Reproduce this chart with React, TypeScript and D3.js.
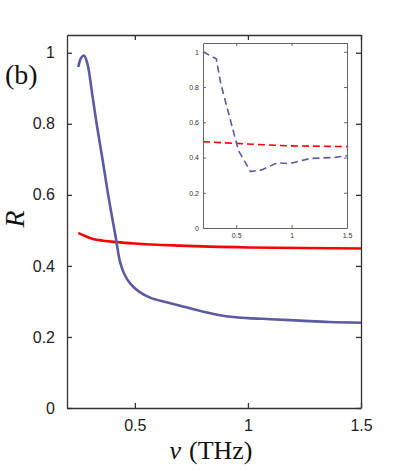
import React, { useEffect, useRef } from 'react';
import * as d3 from 'd3';

// main plot: reflectance vs frequency
const blueNu = [0.25, 0.262, 0.275, 0.29, 0.31, 0.331, 0.357, 0.382, 0.4, 0.417, 0.435, 0.455, 0.48, 0.52, 0.57, 0.64, 0.7, 0.79, 0.87, 0.935, 1.0, 1.1, 1.23, 1.36, 1.5];
const blueR = [0.96, 0.985, 0.992, 0.97, 0.89, 0.8, 0.7, 0.6, 0.535, 0.475, 0.41, 0.375, 0.35, 0.327, 0.31, 0.298, 0.288, 0.273, 0.262, 0.256, 0.253, 0.25, 0.246, 0.242, 0.24];
const redNu = [0.25, 0.28, 0.315, 0.36, 0.42, 0.5, 0.7, 1.0, 1.5];
const redR = [0.493, 0.484, 0.476, 0.471, 0.467, 0.463, 0.457, 0.452, 0.449];

// inset: dashed curves
const insetBlueNu = [0.2, 0.32, 0.36, 0.52, 0.63, 0.73, 0.87, 0.98, 1.17, 1.38, 1.5];
const insetBlueR = [1.0, 0.96, 0.82, 0.44, 0.32, 0.33, 0.37, 0.365, 0.395, 0.4, 0.41];
const insetRedNu = [0.2, 0.47, 0.9, 1.0, 1.5];
const insetRedR = [0.49, 0.481, 0.468, 0.466, 0.462];

const xTicks = [0.5, 1, 1.5];
const yTicks = [0, 0.2, 0.4, 0.6, 0.8, 1];

const App = () => {
  const ref = useRef(null);

  useEffect(() => {
    const svg = d3.select(ref.current);
    svg.selectAll('*').remove();

    const blue = '#5b5ba5';
    const red = '#ff0000';
    const axisColor = '#333';
    const fmt = (d) => String(d);

    // ---------- main axes ----------
    const m = { left: 67, right: 361, top: 35, bottom: 408 };
    const x = d3.scaleLinear().domain([0.2, 1.5]).range([m.left, m.right]);
    const y = d3.scaleLinear().domain([0, 1.05]).range([m.bottom, m.top]);

    const main = svg.append('g');

    main
      .append('path')
      .datum(redNu.map((n, i) => [n, redR[i]]))
      .attr('d', d3.line().x((d) => x(d[0])).y((d) => y(d[1])).curve(d3.curveMonotoneX))
      .attr('fill', 'none')
      .attr('stroke', red)
      .attr('stroke-width', 2.6);

    main
      .append('path')
      .datum(blueNu.map((n, i) => [n, blueR[i]]))
      .attr('d', d3.line().x((d) => x(d[0])).y((d) => y(d[1])).curve(d3.curveCatmullRom.alpha(0.5)))
      .attr('fill', 'none')
      .attr('stroke', blue)
      .attr('stroke-width', 2.6);

    const tickStyle = (g) => {
      g.select('.domain').attr('stroke', axisColor).attr('stroke-width', 1.3);
      g.selectAll('.tick line').attr('stroke', axisColor).attr('stroke-width', 1.3);
      g.selectAll('.tick text')
        .attr('fill', '#222')
        .attr('font-family', 'Liberation Sans, Arial, sans-serif')
        .attr('font-size', 16);
    };

    main
      .append('g')
      .attr('transform', `translate(0,${m.bottom})`)
      .call(d3.axisBottom(x).tickValues(xTicks).tickFormat(fmt).tickSize(-5).tickSizeOuter(0).tickPadding(12))
      .call(tickStyle);
    main
      .append('g')
      .attr('transform', `translate(0,${m.top})`)
      .call(d3.axisTop(x).tickValues(xTicks).tickFormat('').tickSize(-5).tickSizeOuter(0))
      .call(tickStyle);
    main
      .append('g')
      .attr('transform', `translate(${m.left},0)`)
      .call(d3.axisLeft(y).tickValues(yTicks).tickFormat(fmt).tickSize(-5).tickSizeOuter(0).tickPadding(12))
      .call(tickStyle);
    main
      .append('g')
      .attr('transform', `translate(${m.right},0)`)
      .call(d3.axisRight(y).tickValues(yTicks).tickFormat('').tickSize(-5).tickSizeOuter(0))
      .call(tickStyle);

    // ---------- inset ----------
    const n = { left: 203, right: 347, top: 43, bottom: 228 };
    const xi = d3.scaleLinear().domain([0.2, 1.5]).range([n.left, n.right]);
    const yi = d3.scaleLinear().domain([0, 1.05]).range([n.bottom, n.top]);
    const inset = svg.append('g');

    inset
      .append('rect')
      .attr('x', n.left)
      .attr('y', n.top)
      .attr('width', n.right - n.left)
      .attr('height', n.bottom - n.top)
      .attr('fill', '#fff');

    const lineI = d3
      .line()
      .x((d) => xi(d[0]))
      .y((d) => yi(d[1]));

    inset
      .append('path')
      .datum(insetRedNu.map((v, i) => [v, insetRedR[i]]))
      .attr('d', lineI)
      .attr('fill', 'none')
      .attr('stroke', red)
      .attr('stroke-width', 1.6)
      .attr('stroke-dasharray', '7,4');

    inset
      .append('path')
      .datum(insetBlueNu.map((v, i) => [v, insetBlueR[i]]))
      .attr('d', lineI)
      .attr('fill', 'none')
      .attr('stroke', blue)
      .attr('stroke-width', 1.6)
      .attr('stroke-dasharray', '7,4');

    const insetStyle = (g) => {
      g.select('.domain').attr('stroke', '#666').attr('stroke-width', 1);
      g.selectAll('.tick line').attr('stroke', '#666').attr('stroke-width', 1);
      g.selectAll('.tick text')
        .attr('fill', '#333')
        .attr('font-family', 'Liberation Sans, Arial, sans-serif')
        .attr('font-size', 7);
    };

    inset
      .append('g')
      .attr('transform', `translate(0,${n.bottom})`)
      .call(d3.axisBottom(xi).tickValues(xTicks).tickFormat(fmt).tickSize(-3).tickSizeOuter(0).tickPadding(5))
      .call(insetStyle);
    inset
      .append('g')
      .attr('transform', `translate(0,${n.top})`)
      .call(d3.axisTop(xi).tickValues(xTicks).tickFormat('').tickSize(-3).tickSizeOuter(0))
      .call(insetStyle);
    inset
      .append('g')
      .attr('transform', `translate(${n.left},0)`)
      .call(d3.axisLeft(yi).tickValues(yTicks).tickFormat(fmt).tickSize(-3).tickSizeOuter(0).tickPadding(4))
      .call(insetStyle);
    inset
      .append('g')
      .attr('transform', `translate(${n.right},0)`)
      .call(d3.axisRight(yi).tickValues(yTicks).tickFormat('').tickSize(-3).tickSizeOuter(0))
      .call(insetStyle);

    // ---------- labels ----------
    const serif = 'Liberation Serif, Times New Roman, serif';
    svg
      .append('text')
      .attr('x', 5)
      .attr('y', 84)
      .attr('font-family', serif)
      .attr('font-size', 28)
      .attr('fill', '#111')
      .text('(b)');

    svg
      .append('text')
      .attr('transform', 'translate(24,219) rotate(-90)')
      .attr('text-anchor', 'middle')
      .attr('font-family', serif)
      .attr('font-style', 'italic')
      .attr('font-size', 28)
      .attr('fill', '#111')
      .text('R');

    const xl = svg
      .append('text')
      .attr('x', 211)
      .attr('y', 459)
      .attr('text-anchor', 'middle')
      .attr('font-family', serif)
      .attr('font-size', 26)
      .attr('fill', '#111');
    xl.append('tspan').attr('font-style', 'italic').text('ν');
    xl.append('tspan').attr('dx', 8).text('(THz)');
  }, []);

  return (
    <svg
      ref={ref}
      width={399}
      height={470}
      style={{ position: 'absolute', left: 0, top: 0, background: '#fff' }}
    />
  );
};

export default App;
